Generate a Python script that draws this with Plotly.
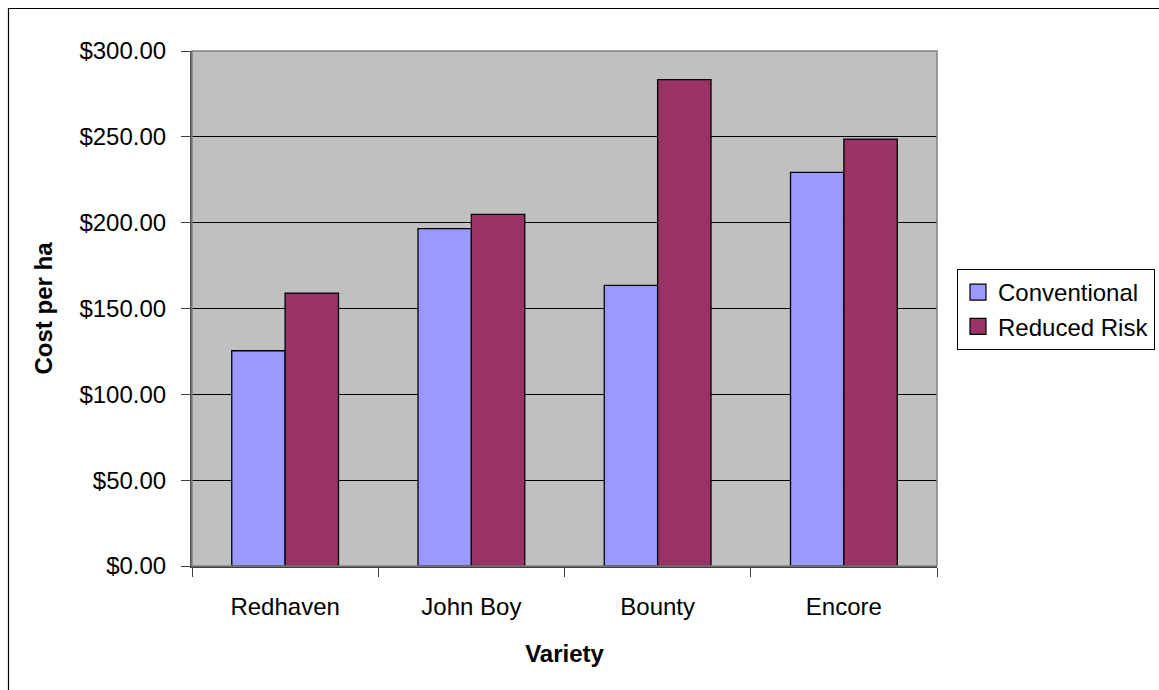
import plotly.graph_objects as go

varieties = ["Redhaven", "John Boy", "Bounty", "Encore"]
conventional = [125.4, 196.5, 163.5, 229.3]
reduced_risk = [159.0, 204.8, 283.3, 248.7]
y_ticks = [0, 50, 100, 150, 200, 250, 300]
y_tick_labels = ["$%.2f" % v for v in y_ticks]
series_names = ["Conventional", "Reduced Risk"]
series_colors = ["#9999FF", "#993366"]

FONT = "Liberation Sans, Arial, sans-serif"

fig = go.Figure()
for name, vals, col in zip(series_names, [conventional, reduced_risk], series_colors):
    fig.add_trace(go.Bar(name=name, x=varieties, y=vals, showlegend=False,
                         marker=dict(color=col, line=dict(color="black", width=1.3))))
for name, col in zip(series_names, series_colors):
    fig.add_trace(go.Scatter(name=name, x=[None], y=[None], mode="markers",
                             marker=dict(symbol="square", size=16, color=col,
                                         line=dict(color="black", width=1.2))))

L, R, T, B = 192, 937, 51, 566
W, H = 1159, 690
pw, ph = R - L, B - T

def px_x(p):
    return (p - L) / pw

def px_y(p):
    return (B - p) / ph

fig.update_layout(
    width=W, height=H,
    margin=dict(l=L, r=W - R, t=T, b=H - B, pad=0, autoexpand=False),
    paper_bgcolor="white",
    plot_bgcolor="#C0C0C0",
    barmode="group",
    bargap=0.427,
    bargroupgap=0,
    font=dict(family=FONT, size=24, color="black"),
    showlegend=True,
    legend=dict(x=px_x(957), y=px_y(269), xanchor="left", yanchor="top",
                bordercolor="black", borderwidth=1, bgcolor="white",
                font=dict(size=24), tracegroupgap=0, itemwidth=30),
    xaxis=dict(
        title=dict(text="<b>Variety</b>", font=dict(size=24), standoff=27),
        tickson="boundaries", ticks="outside", ticklen=9, tickcolor="#404040",
        showline=True, linecolor="#404040", linewidth=1.5,
        showgrid=False, ticklabelstandoff=18, automargin=False,
    ),
    yaxis=dict(
        title=dict(text="<b>Cost per ha</b>", font=dict(size=24), standoff=20),
        range=[0, 300], tickvals=y_ticks, ticktext=y_tick_labels,
        ticks="outside", ticklen=9, tickcolor="#404040",
        showline=True, linecolor="#505050", linewidth=2,
        showgrid=True, gridcolor="black", gridwidth=1,
        zeroline=False, ticklabelstandoff=10, automargin=False,
    ),
)

# plot area border (top/right) and outer chart frame
fig.add_shape(type="rect", xref="paper", yref="paper", x0=0, y0=0, x1=1, y1=1,
              line=dict(color="#808080", width=1.5), layer="above")
fig.add_shape(type="rect", xref="paper", yref="paper",
              x0=px_x(8.5), y0=px_y(700), x1=px_x(1170), y1=px_y(8.5),
              line=dict(color="black", width=1.2), layer="above")

fig.write_html("out.html")
